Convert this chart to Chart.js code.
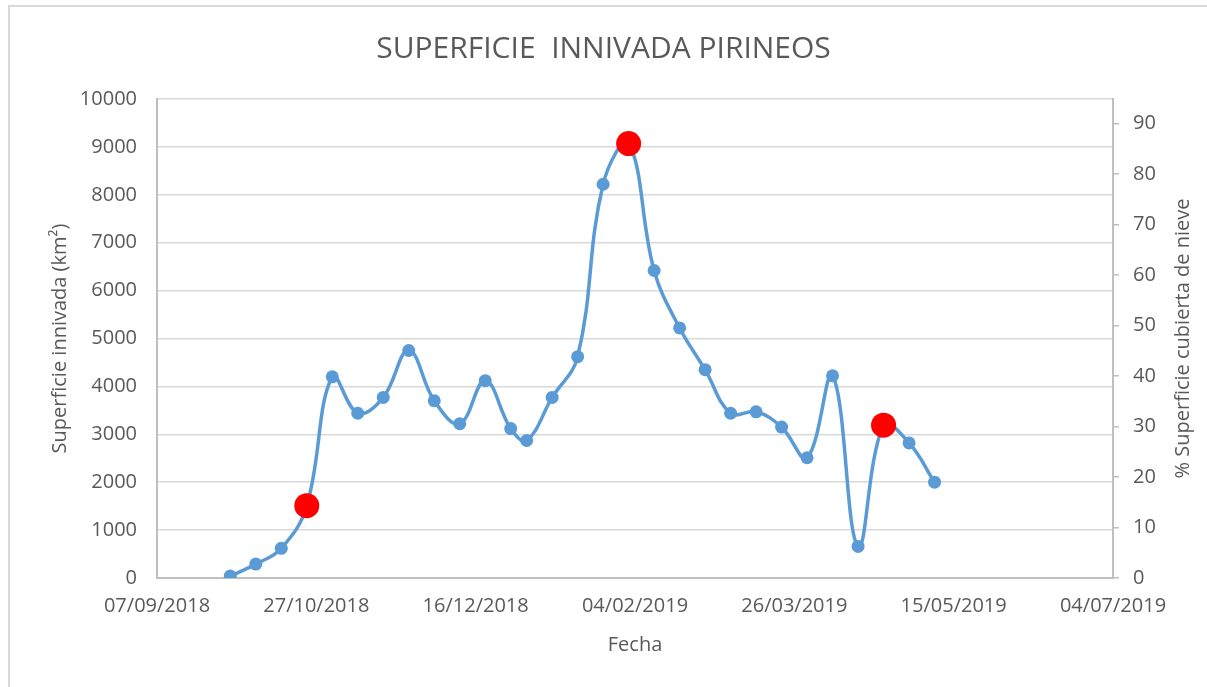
<!DOCTYPE html>
<html>
<head>
<meta charset="utf-8">
<title>Superficie innivada Pirineos</title>
<script src="https://cdn.jsdelivr.net/npm/chart.js@4.4.0/dist/chart.umd.min.js"></script>
<style>
  html, body { margin: 0; padding: 0; background: #fff; overflow: hidden; }
  #frame {
    position: absolute; left: 8px; top: 5px; width: 1400px; height: 900px;
    border-left: 2px solid #d9d9d9; border-top: 2px solid #d9d9d9;
  }
  #my-chart { position: absolute; left: 0; top: 0; }
</style>
</head>
<body>
<div id="frame"></div>
<canvas id="my-chart" width="1207" height="687"></canvas>
<script>
// 8-day snow cover, Pyrenees (km2)
const dates = ['2018-09-30', '2018-10-08', '2018-10-16', '2018-10-24', '2018-11-01', '2018-11-09',
    '2018-11-17', '2018-11-25', '2018-12-03', '2018-12-11', '2018-12-19', '2018-12-27',
    '2019-01-01', '2019-01-09', '2019-01-17', '2019-01-25', '2019-02-02', '2019-02-10',
    '2019-02-18', '2019-02-26', '2019-03-06', '2019-03-14', '2019-03-22', '2019-03-30',
    '2019-04-07', '2019-04-15', '2019-04-23', '2019-05-01', '2019-05-09'];
const snowArea = [40, 290, 620, 1510, 4200, 3440, 3770, 4750, 3700, 3220, 4120, 3120,
    2870, 3770, 4620, 8220, 9070, 6420, 5220, 4350, 3440, 3470, 3150, 2510,
    4220, 660, 3190, 2820, 2000];
const highlightDates = ['2018-10-24', '2019-02-02', '2019-04-23'];

const xStart = '2018-09-07';
const xTickLabels = ['07/09/2018', '27/10/2018', '16/12/2018', '04/02/2019', '26/03/2019', '15/05/2019', '04/07/2019'];
const xTickStepDays = 50;
const areaTicks = [0, 1000, 2000, 3000, 4000, 5000, 6000, 7000, 8000, 9000, 10000];
const pctTicks = [0, 10, 20, 30, 40, 50, 60, 70, 80, 90];
const pctMax = 94.9;   // % that matches 10000 km2

const titleText = 'SUPERFICIE  INNIVADA PIRINEOS';
const leftTitle = 'Superficie innivada (km²)';
const rightTitle = '% Superficie cubierta de nieve';
const xTitle = 'Fecha';

function dayNo(s) {
    let p = s.split('-');
    let q = xStart.split('-');
    return (Date.UTC(+p[0], p[1] - 1, +p[2]) - Date.UTC(+q[0], q[1] - 1, +q[2])) / 86400000;
}

const points = dates.map((d, i) => ({ x: dayNo(d), y: snowArea[i] }));
const isRed = dates.map(d => highlightDates.includes(d));

Chart.defaults.font.family = "'Open Sans', sans-serif";
Chart.defaults.color = '#595959';

// right axis title reads bottom-to-top like the left one
const rightTitlePlugin = {
    id: 'rightTitle',
    afterDraw(chart) {
        const s = chart.scales.y2;
        const c = chart.ctx;
        c.save();
        c.translate(s.right - 24, (s.top + s.bottom) / 2);
        c.rotate(-Math.PI / 2);
        c.font = "20px 'Open Sans', sans-serif";
        c.fillStyle = '#595959';
        c.textAlign = 'center';
        c.textBaseline = 'middle';
        c.fillText(rightTitle, 0, 0);
        c.restore();
    }
};

const ctx = document.getElementById('my-chart').getContext('2d');

let myChart = new Chart(ctx, {
    type: 'line',
    data: {
        datasets: [{
            label: 'Superficie innivada',
            data: points,
            borderColor: '#5b9bd5',
            borderWidth: 3.5,
            tension: 0.4,
            pointRadius: isRed.map(r => r ? 12.5 : 6.5),
            pointBackgroundColor: isRed.map(r => r ? '#ff0000' : '#5b9bd5'),
            pointBorderWidth: 0,
            pointBorderColor: 'rgba(0,0,0,0)',
            yAxisID: 'y'
        }]
    },
    options: {
        responsive: false,
        animation: false,
        layout: { padding: 0 },
        plugins: {
            legend: { display: false },
            tooltip: { enabled: false },
            title: {
                display: true,
                text: titleText,
                color: '#595959',
                font: { size: 30, weight: 'normal' },
                padding: { top: 31, bottom: 32 }
            }
        },
        scales: {
            x: {
                type: 'linear',
                min: 0,
                max: xTickStepDays * (xTickLabels.length - 1),
                afterBuildTicks: s => { s.ticks = xTickLabels.map((t, i) => ({ value: i * xTickStepDays })); },
                afterFit: s => { s.height = 109; },
                ticks: {
                    callback: (v) => xTickLabels[Math.round(v / xTickStepDays)],
                    font: { size: 20 },
                    padding: 16,
                    maxRotation: 0,
                    autoSkip: false
                },
                grid: { drawOnChartArea: false, drawTicks: false },
                border: { display: true, color: '#bfbfbf', width: 2 },
                title: { display: true, text: xTitle, font: { size: 20 }, padding: { top: 0, bottom: 30 } }
            },
            y: {
                position: 'left',
                min: 0,
                max: 10000,
                afterBuildTicks: s => { s.ticks = areaTicks.map(v => ({ value: v })); },
                afterFit: s => { s.width = 157; },
                ticks: {
                    callback: v => String(v),
                    font: { size: 20 },
                    padding: 20
                },
                grid: { color: '#d9d9d9', lineWidth: 1.5, drawTicks: false },
                border: { display: true, color: '#bfbfbf', width: 2 },
                title: { display: true, text: leftTitle, font: { size: 20 }, padding: { top: 48, bottom: 0 } }
            },
            y2: {
                position: 'right',
                min: 0,
                max: pctMax,
                afterBuildTicks: s => { s.ticks = pctTicks.map(v => ({ value: v })); },
                afterFit: s => { s.width = 94; },
                ticks: {
                    callback: v => String(v),
                    font: { size: 20 },
                    padding: 14
                },
                grid: { drawOnChartArea: false, drawTicks: true, tickLength: 6, color: '#bfbfbf', lineWidth: 1.5 },
                border: { display: true, color: '#bfbfbf', width: 2 }
            }
        }
    },
    plugins: [rightTitlePlugin]
});
</script>
</body>
</html>
